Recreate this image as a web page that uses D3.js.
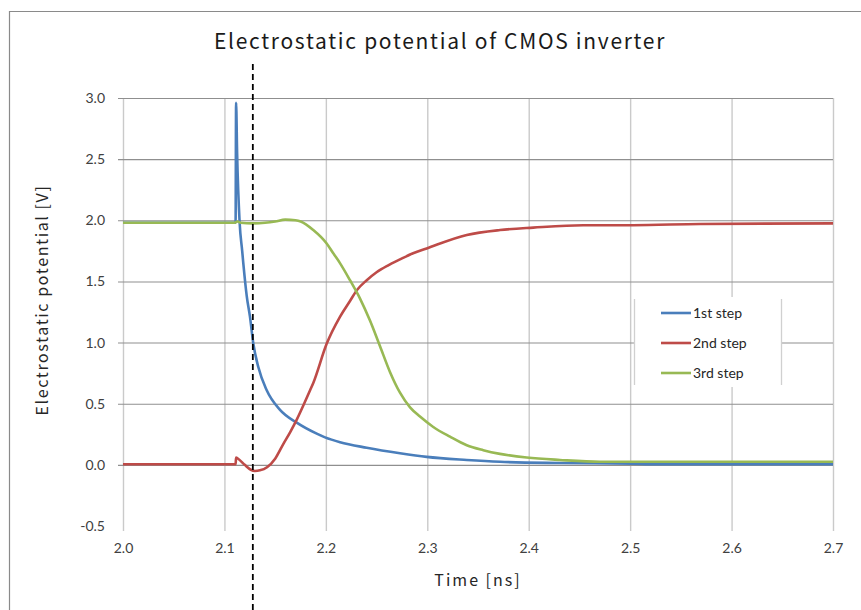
<!DOCTYPE html>
<html>
<head>
<meta charset="utf-8">
<script src="https://cdn.jsdelivr.net/npm/d3@7"></script>
<style>
  html, body { margin: 0; padding: 0; background: #fff; }
  svg { display: block; }
  text { font-family: Lato, "Open Sans", sans-serif; }
</style>
</head>
<body>
<svg id="chart" width="861" height="610"></svg>
<script>
// ---------------- data ----------------
const chartTitle = "Electrostatic potential of CMOS inverter";
const xTitle = "Time [ns]";
const yTitle = "Electrostatic potential [V]";
const seriesNames = ["1st step", "2nd step", "3rd step"];
const seriesColors = ["#4a7ebb", "#be4b48", "#98b954"];

const xTicks = [2.0, 2.1, 2.2, 2.3, 2.4, 2.5, 2.6, 2.7];
const yTicks = [-0.5, 0.0, 0.5, 1.0, 1.5, 2.0, 2.5, 3.0];
const markerTime = 2.128; // dashed vertical marker

// 1st step
const time1 = [2.000, 2.1110, 2.1115, 2.1125, 2.1150, 2.1175, 2.1186, 2.1220, 2.1252, 2.1285, 2.1334,
               2.1417, 2.1548, 2.1713, 2.1910, 2.1992, 2.2140, 2.2403, 2.2731, 2.2994, 2.3389,
               2.3717, 2.4308, 2.5028, 2.5196, 2.5689, 2.700];
const step1 = [1.98, 1.98, 2.96, 2.55, 1.98, 1.75, 1.65, 1.38, 1.21, 0.99, 0.80,
               0.61, 0.45, 0.345, 0.255, 0.225, 0.185, 0.14, 0.095, 0.065, 0.04,
               0.025, 0.015, 0.01, 0.005, 0.005, 0.005];

// 2nd step
const time2 = [2.000, 2.1110, 2.1115, 2.1125, 2.1135, 2.1200, 2.1260, 2.1300, 2.1350, 2.1420, 2.1500,
               2.1580, 2.1650, 2.1713, 2.1839, 2.1876, 2.2008, 2.2139, 2.2238, 2.2307, 2.2403,
               2.2500, 2.2610, 2.2731, 2.2860, 2.2994, 2.3389, 2.3717, 2.4045, 2.4538, 2.5028,
               2.5689, 2.700];
const step2 = [0.005, 0.005, 0.06, 0.055, 0.05, 0.0, -0.04, -0.05, -0.045, -0.02, 0.05,
               0.17, 0.27, 0.37, 0.60, 0.67, 0.99, 1.21, 1.34, 1.43, 1.51,
               1.575, 1.63, 1.68, 1.73, 1.77, 1.88, 1.92, 1.94, 1.96, 1.96,
               1.97, 1.975];

// 3rd step
const time3 = [2.000, 2.1100, 2.1130, 2.1160, 2.1280, 2.1400, 2.1500, 2.1600, 2.1700, 2.1752, 2.1876,
               2.2008, 2.2073, 2.2139, 2.2238, 2.2337, 2.2435, 2.2534, 2.2632, 2.2731, 2.2830,
               2.2928, 2.3059, 2.3224, 2.3389, 2.3552, 2.3717, 2.3980, 2.4308, 2.4703, 2.5689,
               2.700];
const step3 = [1.98, 1.98, 1.99, 1.98, 1.975, 1.98, 1.99, 2.005, 2.0, 1.99, 1.92,
               1.81, 1.73, 1.65, 1.51, 1.36, 1.18, 0.97, 0.76, 0.59, 0.47,
               0.395, 0.31, 0.23, 0.16, 0.12, 0.09, 0.06, 0.04, 0.025, 0.025,
               0.025];

const seriesTimes = [time1, time2, time3];
const seriesValues = [step1, step2, step3];

// ---------------- layout ----------------
const svg = d3.select("#chart");
const W = 861, H = 610;
const plot = { left: 123, right: 833, top: 98, bottom: 526 };
const gridBottom = 531;

const x = d3.scaleLinear().domain([2.0, 2.7]).range([plot.left, plot.right]);
const y = d3.scaleLinear().domain([-0.5, 3.0]).range([plot.bottom, plot.top]);

// outer chart frame (partially cropped)
svg.append("path")
  .attr("d", `M9.5,${H + 2} L9.5,11.5 L${W + 2},11.5`)
  .attr("fill", "none").attr("stroke", "#8a8a8a").attr("stroke-width", 1.2);

// vertical gridlines (light)
svg.append("g")
  .attr("transform", `translate(0,${gridBottom})`)
  .call(d3.axisBottom(x).tickValues(xTicks).tickSize(-(gridBottom - plot.top)).tickFormat(""))
  .call(g => g.select(".domain").remove())
  .call(g => g.selectAll("line").attr("stroke", "#cacaca").attr("stroke-width", 1.4));

// horizontal gridlines (darker) incl. left tick marks
svg.append("g")
  .attr("transform", `translate(${plot.left - 5},0)`)
  .call(d3.axisLeft(y).tickValues(yTicks.filter(v => v > -0.5)).tickSize(-(plot.right - plot.left + 5)).tickFormat(""))
  .call(g => g.select(".domain").remove())
  .call(g => g.selectAll("line").attr("stroke", "#8f8f8f").attr("stroke-width", 1.1));

// y tick labels
svg.append("g")
  .attr("transform", `translate(${plot.left},0)`)
  .call(d3.axisLeft(y).tickValues(yTicks).tickSize(0).tickPadding(18).tickFormat(d => d.toFixed(1)))
  .call(g => g.select(".domain").remove())
  .call(g => g.selectAll("text").attr("fill", "#404040").style("font-size", "14px")
      .style("font-family", "Lato, sans-serif"));

// x tick labels
svg.append("g")
  .attr("transform", `translate(0,${gridBottom})`)
  .call(d3.axisBottom(x).tickValues(xTicks).tickSize(0).tickPadding(12).tickFormat(d => d.toFixed(1)))
  .call(g => g.select(".domain").remove())
  .call(g => g.selectAll("text").attr("fill", "#404040").style("font-size", "14px")
      .style("font-family", "Lato, sans-serif"));

// series lines
const line = d3.line()
  .x(d => x(d[0]))
  .y(d => y(d[1]))
  .curve(d3.curveMonotoneX);

seriesNames.forEach((name, i) => {
  const pts = seriesTimes[i].map((t, k) => [t, seriesValues[i][k]]);
  svg.append("path")
    .datum(pts)
    .attr("d", line)
    .attr("fill", "none")
    .attr("stroke", seriesColors[i])
    .attr("stroke-width", 2.6)
    .attr("stroke-linejoin", "round")
    .attr("stroke-linecap", "butt");
});

// dashed marker
svg.append("line")
  .attr("x1", x(markerTime)).attr("x2", x(markerTime))
  .attr("y1", 64).attr("y2", H)
  .attr("stroke", "#000").attr("stroke-width", 1.8)
  .attr("stroke-dasharray", "6,4");

// legend
const lg = svg.append("g");
const lgBox = { x0: 634, x1: 782, y0: 297, y1: 387 };
lg.append("rect")
  .attr("x", lgBox.x0).attr("y", lgBox.y0)
  .attr("width", lgBox.x1 - lgBox.x0).attr("height", lgBox.y1 - lgBox.y0)
  .attr("fill", "#fff");
[lgBox.x0 + 0.5, lgBox.x1 - 0.5].forEach(xx => {
  lg.append("line").attr("x1", xx).attr("x2", xx).attr("y1", lgBox.y0 + 2).attr("y2", lgBox.y1 - 2)
    .attr("stroke", "#d0d0d0").attr("stroke-width", 1.3);
});
seriesNames.forEach((name, i) => {
  const yy = 313 + i * 30;
  lg.append("line")
    .attr("x1", 661).attr("x2", 691).attr("y1", yy).attr("y2", yy)
    .attr("stroke", seriesColors[i]).attr("stroke-width", 2.6);
  lg.append("text")
    .attr("x", 693).attr("y", yy).attr("dy", "0.35em")
    .attr("fill", "#262626").style("font-size", "14px")
    .text(name);
});

// titles
svg.append("text")
  .attr("x", 440).attr("y", 42).attr("dy", "0.35em")
  .attr("text-anchor", "middle")
  .attr("fill", "#1a1a1a").style("font-size", "21px")
  .style("letter-spacing", "1.7px")
  .style("font-family", "'Noto Sans CJK JP', sans-serif")
  .text(chartTitle);

svg.append("text")
  .attr("x", 478).attr("y", 580).attr("dy", "0.35em")
  .attr("text-anchor", "middle")
  .attr("fill", "#262626").style("font-size", "16px")
  .style("letter-spacing", "2px")
  .style("font-family", "'Noto Sans CJK JP', sans-serif")
  .text(xTitle);

svg.append("text")
  .attr("transform", "translate(42,300) rotate(-90)")
  .attr("dy", "0.35em")
  .attr("text-anchor", "middle")
  .attr("fill", "#262626").style("font-size", "16px")
  .style("letter-spacing", "1.6px")
  .style("font-family", "'Noto Sans CJK JP', sans-serif")
  .text(yTitle);
</script>
</body>
</html>
